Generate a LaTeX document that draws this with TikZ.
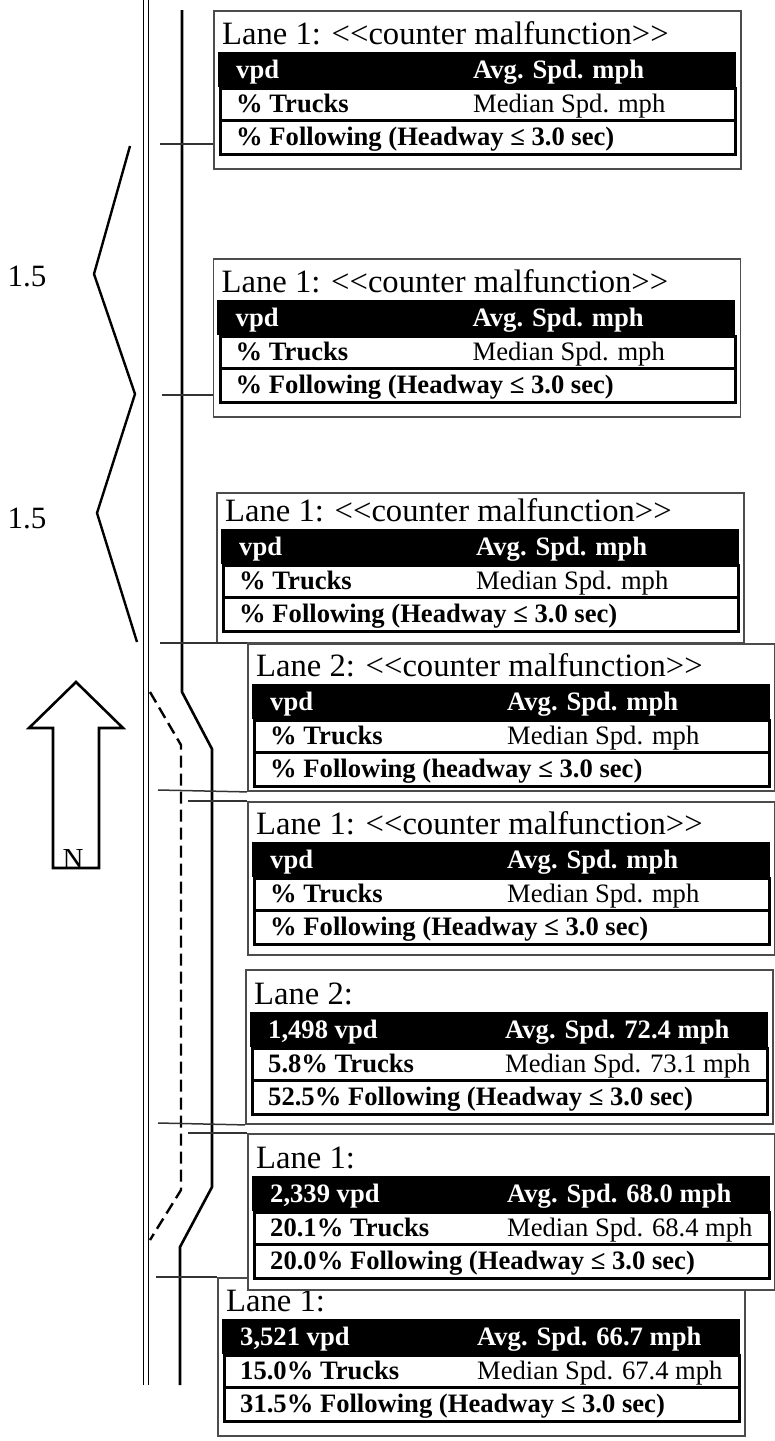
\documentclass[tikz,border=0pt]{standalone}
\usepackage{fontspec}
\setmainfont{Liberation Serif}
\newcommand\llt{<\kern0pt<}
\newcommand\ggt{>\kern0pt>}
\tikzset{
  outerbox/.style={draw=black!70, line width=1.9pt, fill=white, inner sep=0pt, minimum width=527pt},
  barbox/.style={fill=black, inner sep=0pt, minimum width=518.2pt, minimum height=35pt, anchor=north west},
  rowbox/.style={draw=black, line width=3.2pt, inner sep=0pt, minimum width=515pt, anchor=north west},
  titletext/.style={font=\fontsize{32.6}{35}\selectfont, anchor=base west, inner sep=0pt},
  bartext/.style={font=\fontsize{26.6}{30}\selectfont\bfseries, text=white, anchor=base west, inner sep=0pt},
  rowtext/.style={font=\fontsize{26.6}{30}\selectfont\bfseries, anchor=base west, inner sep=0pt},
  medtext/.style={font=\fontsize{26.6}{30}\selectfont, anchor=base west, inner sep=0pt},
  roadline/.style={line width=2.6pt, black},
  edgeline/.style={line width=1.5pt, black},
  laneline/.style={line width=2.4pt, black, dash pattern=on 12pt off 6pt},
  tick/.style={line width=1.5pt, black!80},
  zig/.style={line width=2.4pt, black, line join=round},
  lbl/.style={font=\fontsize{31}{34}\selectfont, inner sep=0pt},
  arrowline/.style={line width=2.6pt, black},
  ntext/.style={font=\fontsize{29}{32}\selectfont, inner sep=0pt},
}
% #1 name, #2 left x, #3 top y, #4 height, #5 table top y, #6 title, #7 bar left, #8 bar right, #9 row2 left
\newcommand\lanebox[9]{%
  \node[outerbox, anchor=north west, minimum height=#4pt] (#1) at (#2,#3) {};
  \node[titletext] (#1-title) at ({#2+9},{#5-8}) {#6};
  \node[barbox] (#1-bar) at ({#2+4.4},#5) {};
  \node[rowbox, minimum height=32pt] (#1-r2) at ({#2+6},{#5+35}) {};
  \node[rowbox, minimum height=34pt] (#1-r3) at ({#2+6},{#5+67}) {};
  \node[bartext] (#1-c1) at ({#2+23},{#5+26}) {#7};
  \node[bartext] (#1-c2) at ({#2+260},{#5+26}) {#8};
  \node[rowtext] (#1-c3) at ({#2+23},{#5+60}) {#9};
  \def\curx{#2}\def\cury{#5}%
}
% #1 name, #2 row2 right, #3 row3
\newcommand\lanerest[3]{%
  \node[medtext] (#1-c4) at ({\curx+260},{\cury+60}) {#2};
  \node[rowtext] (#1-c5) at ({\curx+23},{\cury+93}) {#3};
}
\begin{document}
\begin{tikzpicture}[x=1pt,y=-1pt]
\useasboundingbox (0,0) rectangle (775,1441);
% road
\draw[edgeline] (143.5,0) -- (143.5,1385);
\draw[edgeline] (148.5,0) -- (148.5,1385);
\draw[roadline] (182,10) -- (182,692) -- (212,749) -- (212,1187) -- (180,1247) -- (180,1385);
\draw[laneline] (150,692) -- (181,745) -- (181,1190) -- (150,1240);
% distance brackets
\draw[zig] (130,146) -- (94,274) -- (135,394) -- (97,513) -- (137,642);
\node[lbl] (d1) at (27,276) {1.5};
\node[lbl] (d2) at (27,518) {1.5};
% north arrow
\draw[arrowline] (53,868) -- (53,728) -- (29,728) -- (76,682) -- (123,728) -- (99,728) -- (99,868) -- cycle;
\node[ntext, anchor=base] (north) at (73,868) {N};
% boxes
\lanebox{b1}{213}{10}{158}{52}{Lane 1: \llt counter malfunction\ggt}{vpd}{Avg. Spd. mph}{\% Trucks}
\lanerest{b1}{Median Spd. mph}{\% Following (Headway ≤ 3.0 sec)}
\lanebox{b2}{212.5}{258}{158}{300}{Lane 1: \llt counter malfunction\ggt}{vpd}{Avg. Spd. mph}{\% Trucks}
\lanerest{b2}{Median Spd. mph}{\% Following (Headway ≤ 3.0 sec)}
\lanebox{b3}{216}{492}{150}{529}{Lane 1: \llt counter malfunction\ggt}{vpd}{Avg. Spd. mph}{\% Trucks}
\lanerest{b3}{Median Spd. mph}{\% Following (Headway ≤ 3.0 sec)}
\lanebox{b4}{247}{643}{147}{684}{Lane 2: \llt counter malfunction\ggt}{vpd}{Avg. Spd. mph}{\% Trucks}
\lanerest{b4}{Median Spd. mph}{\% Following (headway ≤ 3.0 sec)}
\lanebox{b5}{247}{801}{153}{842}{Lane 1: \llt counter malfunction\ggt}{vpd}{Avg. Spd. mph}{\% Trucks}
\lanerest{b5}{Median Spd. mph}{\% Following (Headway ≤ 3.0 sec)}
\lanebox{b6}{245}{969}{154}{1012}{Lane 2:}{1,498 vpd}{Avg. Spd. 72.4 mph}{5.8\% Trucks}
\lanerest{b6}{Median Spd. 73.1 mph}{52.5\% Following (Headway ≤ 3.0 sec)}
\lanebox{b8}{217}{1277}{158}{1319}{Lane 1:}{3,521 vpd}{Avg. Spd. 66.7 mph}{15.0\% Trucks}
\lanerest{b8}{Median Spd. 67.4 mph}{31.5\% Following (Headway ≤ 3.0 sec)}
\lanebox{b7}{247}{1133}{156}{1176}{Lane 1:}{2,339 vpd}{Avg. Spd. 68.0 mph}{20.1\% Trucks}
\lanerest{b7}{Median Spd. 68.4 mph}{20.0\% Following (Headway ≤ 3.0 sec)}
% connector ticks
\coordinate (t1) at (160,144);
\coordinate (t2) at (162,395);
\coordinate (t3) at (160,643);
\coordinate (t4) at (158,790);
\coordinate (t5) at (188,801);
\coordinate (t6) at (158,1123);
\coordinate (t7) at (188,1133);
\coordinate (t8) at (156,1277);
\draw[tick] (t1) -- (t1 -| b1.west);
\draw[tick] (t2) -- (t2 -| b2.west);
\draw[tick] (t3) -- (b4.north west);
\draw[tick] (t4) -- (b4.south west);
\draw[tick] (t5) -- (b5.north west);
\draw[tick] (t6) -- (b6.south west);
\draw[tick] (t7) -- (b7.north west);
\draw[tick] (t8) -- (b8.north west);
\end{tikzpicture}
\end{document}
